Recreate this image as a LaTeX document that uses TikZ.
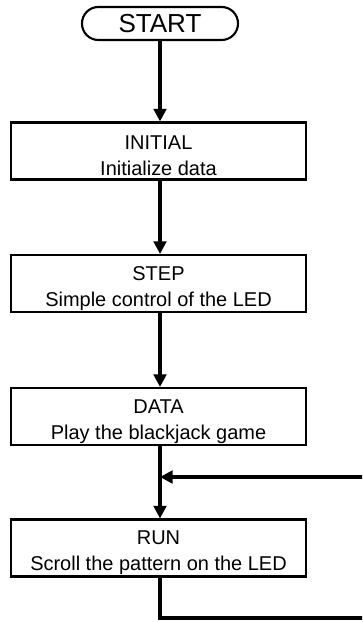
\documentclass[tikz,border=0pt]{standalone}
\usepackage{fontspec}
\setmainfont{Liberation Sans}
\usetikzlibrary{arrows.meta}
\begin{document}
\begin{tikzpicture}[x=0.025cm, y=-0.025cm]
			\tikzstyle{terminal} = [draw=black, line width=1.5pt, rounded corners=0.41cm, minimum width=3.9cm, minimum height=0.825cm, inner sep=0pt, font=\fontsize{18.5}{20}\selectfont]
			\tikzstyle{process}  = [draw=black, line width=1.5pt, minimum width=7.375cm, minimum height=1.425cm, inner sep=0pt, align=center, font=\fontsize{14.2}{18.5}\selectfont]
			\tikzstyle{flow}     = [line width=2.8pt, -{Triangle[length=9pt, width=9pt]}]

			\clip (0, 0) rectangle (362, 622);

			\node[terminal] (start) at (160, 23.5) {START};

			\foreach \name/\y/\title/\task in {init/151/INITIAL/Initialize data, step/283.5/STEP/Simple control of the LED, data/416.5/DATA/Play the blackjack game, run/548/RUN/Scroll the pattern on the LED}
				\node[process] (\name) at (158.5, \y) {\rule{0pt}{17pt}\title\\\task};

			\coordinate (join) at (160, 477);
			\coordinate (loopB) at (370, 618);

			\foreach \from/\to in {start/init, init/step, step/data, data/run}
				\draw[flow] (\from.south -| start) -- (\to.north -| start);

			% loop back from RUN, its right side runs off the page
			\draw[flow] (run.south -| start) |- (loopB) |- (join);

		\end{tikzpicture}
\end{document}
